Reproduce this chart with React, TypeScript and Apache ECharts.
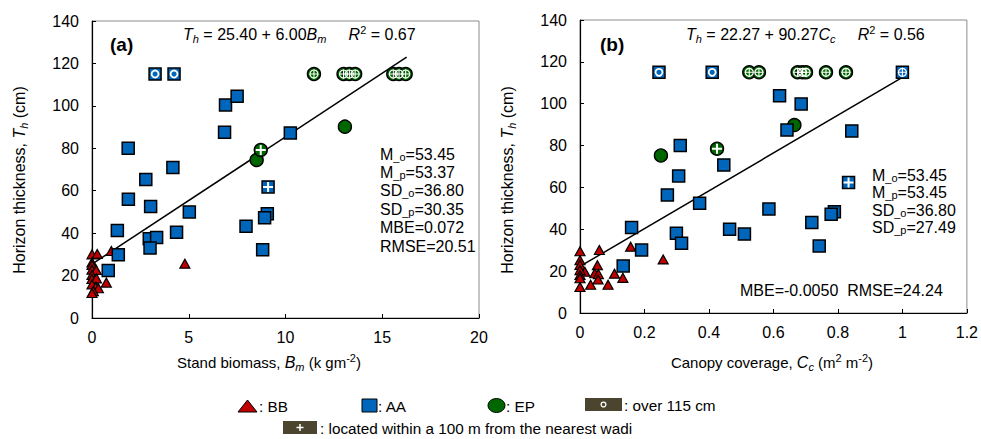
import React, { useEffect, useRef } from 'react';
import * as echarts from 'echarts';

// ---------- Panel (a): stand biomass Bm vs horizon thickness Th ----------
const bbA: number[][] = [
  [0, 30], [0.27, 30.2], [1.0, 31.6], [0, 26.2], [0, 25], [0, 22.8], [0.22, 22.6],
  [0, 20.3], [0, 18.4], [0.23, 18.7], [0.74, 16.7], [0, 15.8], [0.2, 14.6],
  [0.33, 14], [0.07, 12.7], [0, 11.8], [4.8, 25.6],
];
const aaA: number[][] = [
  [6.9, 100.4], [7.5, 104.5], [6.85, 87.6], [10.25, 87.2], [1.87, 80], [2.78, 65.3],
  [4.18, 71], [1.88, 56], [3.03, 52.6], [5.03, 50], [1.31, 41.2], [4.37, 40.4],
  [2.96, 37.4], [3.34, 38], [3.0, 33], [1.36, 29.8], [0.84, 22.4], [7.96, 43.2],
  [9.06, 49.2], [8.92, 47.2], [8.82, 32.2],
];
const aaAOver: number[][] = [[3.26, 115], [4.24, 115]];
const aaAWadi: number[][] = [[9.1, 61.8]];
const epA: number[][] = [[13.07, 90.2], [8.51, 74.5]];
const epAWadi: number[][] = [[8.72, 79.2]];
const epAOverWadi: number[][] = [
  [11.47, 115], [13.0, 115], [13.3, 115], [13.6, 115], [15.57, 115], [15.87, 115], [16.21, 115],
];
const fitA = { intercept: 25.4, slope: 6.0, xStart: 0, xEnd: 16.26 };
const statsA = ['M{s|_o}=53.45', 'M{s|_p}=53.37', 'SD{s|_o}=36.80', 'SD{s|_p}=30.35', 'MBE=0.072', 'RMSE=20.51'];

// ---------- Panel (b): canopy coverage Cc vs horizon thickness Th ----------
const bbB: number[][] = [
  [0, 29.5], [0.06, 30.1], [0.157, 31.7], [0.258, 25.6], [0, 25.2], [0, 23], [0.054, 22.8],
  [0.015, 19.7], [0, 20.5], [0.046, 19], [0.057, 18.6], [0.107, 18.8], [0, 18.2],
  [0, 16.6], [0.056, 16], [0.133, 16.8], [0.033, 13.5], [0.087, 13.5], [0, 12.4],
];
const aaB: number[][] = [
  [0.311, 80], [0.306, 65.5], [0.446, 70.7], [0.271, 56.4], [0.371, 52.4], [0.16, 40.8],
  [0.299, 38.1], [0.315, 33.3], [0.191, 30.1], [0.134, 22.5], [0.464, 40], [0.51, 37.7],
  [0.586, 49.7], [0.619, 103.8], [0.686, 99.9], [0.642, 87.4], [0.843, 87],
  [0.789, 48.4], [0.779, 47.2], [0.719, 43.3], [0.742, 32],
];
const aaBOver: number[][] = [[0.245, 115], [0.41, 115]];
const aaBWadi: number[][] = [[0.833, 62.3]];
const aaBOverWadi: number[][] = [[1.0, 115]];
const epB: number[][] = [[0.251, 75.3], [0.665, 89.8]];
const epBWadi: number[][] = [[0.425, 78.5]];
const epBOverWadi: number[][] = [
  [0.525, 115], [0.555, 115], [0.675, 115], [0.69, 115], [0.701, 115], [0.763, 115], [0.825, 115],
];
const fitB = { intercept: 22.27, slope: 90.27, xStart: 0, xEnd: 1.0 };
const statsB = ['M{s|_o}=53.45', 'M{s|_p}=53.45', 'SD{s|_o}=36.80', 'SD{s|_p}=27.49'];

const yTicks = { min: 0, max: 140, interval: 20 };
const xTicksA = { min: 0, max: 20, interval: 5 };
const xTicksB = { min: 0, max: 1.2, interval: 0.2 };

const FONT = 'Liberation Sans, Arial, sans-serif';
const BLUE = '#0066BB';
const RED = '#C00000';
const GREEN = '#006600';
const OLIVE = '#4B4530';
const PLUS_THICK = 'path://M4,0H6V4H10V6H6V10H4V6H0V4H4Z';
const PLUS_THIN = 'path://M4.4,0H5.6V4.4H10V5.6H5.6V10H4.4V5.6H0V4.4H4.4Z';

const richSub = {
  i: { fontStyle: 'italic', fontSize: 16, fontFamily: FONT, color: '#000', lineHeight: 20 },
  s: { fontSize: 11, fontFamily: FONT, color: '#000', verticalAlign: 'bottom', lineHeight: 11 },
  si: { fontSize: 11, fontStyle: 'italic', fontFamily: FONT, color: '#000', verticalAlign: 'bottom', lineHeight: 11 },
  sup: { fontSize: 11, fontFamily: FONT, color: '#000', verticalAlign: 'top', lineHeight: 11 },
};

function fitLine(f: { intercept: number; slope: number; xStart: number; xEnd: number }) {
  return [f.xStart, f.xEnd].map((x) => [x, f.intercept + f.slope * x]);
}

function panelSeries(idx: number, d: any) {
  const base = { type: 'scatter', xAxisIndex: idx, yAxisIndex: idx, silent: true };
  const sq = { symbol: 'rect', symbolSize: 12, itemStyle: { color: BLUE, borderColor: '#000', borderWidth: 1.5, opacity: 1 } };
  const ci = { symbol: 'circle', symbolSize: 13, itemStyle: { color: GREEN, borderColor: '#000', borderWidth: 1.4, opacity: 1 } };
  const ring = (size: number, w: number) => ({
    symbol: 'circle', symbolSize: size,
    itemStyle: { color: 'rgba(0,0,0,0)', borderColor: '#fff', borderWidth: w, opacity: 1 },
  });
  const plus = (p: string, size: number) => ({ symbol: p, symbolSize: size, itemStyle: { color: '#fff', borderWidth: 0, opacity: 1 } });
  return [
    { ...base, ...ci, data: [...d.ep, ...d.epWadi, ...d.epOverWadi] },
    { ...base, ...ring(8, 1.2), data: d.epOverWadi },
    { ...base, ...plus(PLUS_THIN, 9), data: [...d.epOverWadi] },
    { ...base, ...plus(PLUS_THICK, 10), data: d.epWadi },
    {
      ...base, symbol: 'triangle', symbolSize: [10, 9],
      itemStyle: { color: RED, borderColor: '#000', borderWidth: 1.2, opacity: 1 }, data: d.bb,
    },
    { ...base, ...sq, data: [...d.aa, ...d.aaOver, ...d.aaWadi, ...(d.aaOverWadi || [])] },
    { ...base, ...ring(7, 1.8), data: [...d.aaOver] },
    { ...base, ...ring(8, 1.2), data: [...(d.aaOverWadi || [])] },
    { ...base, ...plus(PLUS_THICK, 10), data: d.aaWadi },
    { ...base, ...plus(PLUS_THIN, 9), data: [...(d.aaOverWadi || [])] },
    {
      type: 'line', xAxisIndex: idx, yAxisIndex: idx, silent: true, symbol: 'none',
      lineStyle: { color: '#000', width: 1.5 }, data: d.fit, z: 1,
    },
  ];
}

function makeText(x: number, y: number, text: string, extra: any = {}) {
  return {
    type: 'text', x, y, silent: true,
    style: {
      text, fontFamily: FONT, fontSize: 16, fill: '#000', rich: richSub,
      verticalAlign: 'middle', align: 'left', ...extra,
    },
  };
}

export default function App() {
  const ref = useRef<HTMLDivElement>(null);
  useEffect(() => {
    if (!ref.current) return;
    const chart = echarts.init(ref.current, undefined, { renderer: 'svg' });
    const axisLabel = { fontFamily: FONT, fontSize: 16, color: '#000' };
    const xAxisCommon = {
      type: 'value', splitLine: { show: false },
      axisLine: { show: true, lineStyle: { color: '#000', width: 1.2 } },
      axisTick: { show: true, inside: true, length: 4, lineStyle: { color: '#000' } },
      axisLabel: { ...axisLabel, margin: 11 },
    };
    const yAxisCommon = {
      type: 'value', ...yTicks, splitLine: { show: false },
      axisLine: { show: true, lineStyle: { color: '#000', width: 1.2 } },
      axisTick: { show: true, inside: true, length: 4, lineStyle: { color: '#000' } },
      axisLabel: { ...axisLabel, margin: 13 },
    };

    const graphics: any[] = [];
    graphics.push(makeText(110, 44, '(a)', { fontSize: 19, fontWeight: 'bold' }));
    graphics.push(makeText(600, 44, '(b)', { fontSize: 19, fontWeight: 'bold' }));
    graphics.push(makeText(183, 34, '{i|T}{si|h} = 25.40 + 6.00{i|B}{si|m}     {i|R}{sup|2} = 0.67'));
    graphics.push(makeText(686, 34, '{i|T}{si|h} = 22.27 + 90.27{i|C}{si|c}     {i|R}{sup|2} = 0.56'));
    statsA.forEach((t, k) => graphics.push(makeText(380, 154 + k * 18.4, t)));
    statsB.forEach((t, k) => graphics.push(makeText(872, 175 + k * 17.5, t)));
    graphics.push(makeText(740, 290, 'MBE=-0.0050  RMSE=24.24'));
    graphics.push({
      ...makeText(19, 180, 'Horizon thickness, {i|T}{si|h} (cm)', { align: 'center' }),
      rotation: Math.PI / 2,
    });
    graphics.push({
      ...makeText(507, 180, 'Horizon thickness, {i|T}{si|h} (cm)', { align: 'center' }),
      rotation: Math.PI / 2,
    });
    graphics.push(makeText(269, 362, 'Stand biomass, {i|B}{si|m} (k gm{sup|-2})', { align: 'center', fontSize: 15 }));
    graphics.push(makeText(772, 362, 'Canopy coverage, {i|C}{si|c} (m{sup|2} m{sup|-2})', { align: 'center', fontSize: 15 }));

    const LF = 15.3;
    graphics.push({
      type: 'polygon', silent: true,
      shape: { points: [[238, 412], [247.5, 400], [257, 412]] },
      style: { fill: RED, stroke: '#000', lineWidth: 1 },
    });
    graphics.push(makeText(259, 406, ': BB', { fontSize: LF }));
    graphics.push({
      type: 'rect', silent: true, shape: { x: 362, y: 399, width: 15, height: 13 },
      style: { fill: BLUE, stroke: '#000', lineWidth: 1 },
    });
    graphics.push(makeText(378, 406, ': AA', { fontSize: LF }));
    graphics.push({
      type: 'ellipse', silent: true, shape: { cx: 496.5, cy: 405.5, rx: 8.5, ry: 7 },
      style: { fill: GREEN, stroke: '#000', lineWidth: 1 },
    });
    graphics.push(makeText(506, 406, ': EP', { fontSize: LF }));
    graphics.push({
      type: 'rect', silent: true, shape: { x: 585, y: 398, width: 37, height: 13 },
      style: { fill: OLIVE },
    });
    graphics.push({
      type: 'circle', silent: true, shape: { cx: 603.5, cy: 404.5, r: 2.4 },
      style: { fill: 'none', stroke: '#fff', lineWidth: 1.3 },
    });
    graphics.push(makeText(624, 405, ': over 115 cm', { fontSize: LF }));
    graphics.push({
      type: 'rect', silent: true, shape: { x: 283, y: 421, width: 34, height: 13 },
      style: { fill: OLIVE },
    });
    graphics.push({
      type: 'line', silent: true, shape: { x1: 296.5, y1: 427.5, x2: 303.5, y2: 427.5 },
      style: { stroke: '#fff', lineWidth: 1.5 },
    });
    graphics.push({
      type: 'line', silent: true, shape: { x1: 300, y1: 424, x2: 300, y2: 431 },
      style: { stroke: '#fff', lineWidth: 1.5 },
    });
    graphics.push(makeText(320, 428, ': located within a 100 m from the nearest wadi', { fontSize: LF }));

    chart.setOption({
      animation: false,
      backgroundColor: '#fff',
      grid: [
        { left: 92, top: 21, width: 387, height: 297, show: true, borderColor: '#8c8c8c', borderWidth: 1 },
        { left: 580, top: 20, width: 388, height: 293, show: true, borderColor: '#8c8c8c', borderWidth: 1 },
      ],
      xAxis: [
        { ...xAxisCommon, gridIndex: 0, ...xTicksA },
        { ...xAxisCommon, gridIndex: 1, ...xTicksB },
      ],
      yAxis: [
        { ...yAxisCommon, gridIndex: 0 },
        { ...yAxisCommon, gridIndex: 1 },
      ],
      series: [
        ...panelSeries(0, {
          bb: bbA, aa: aaA, aaOver: aaAOver, aaWadi: aaAWadi, ep: epA, epWadi: epAWadi,
          epOverWadi: epAOverWadi, fit: fitLine(fitA),
        }),
        ...panelSeries(1, {
          bb: bbB, aa: aaB, aaOver: aaBOver, aaWadi: aaBWadi, aaOverWadi: aaBOverWadi, ep: epB,
          epWadi: epBWadi, epOverWadi: epBOverWadi, fit: fitLine(fitB),
        }),
      ],
      graphic: graphics,
    });
    return () => chart.dispose();
  }, []);
  return (
    <div
      ref={ref}
      style={{ position: 'absolute', left: 0, top: 0, width: 981, height: 439 }}
    />
  );
}
